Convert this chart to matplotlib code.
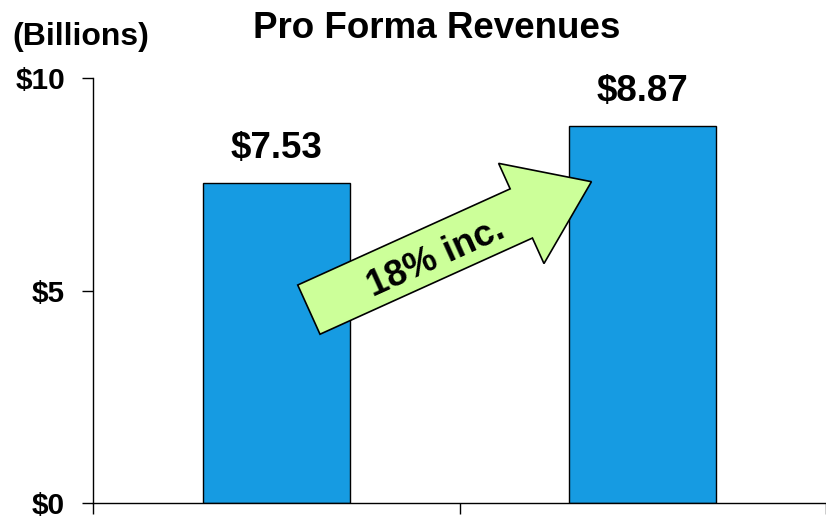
import numpy as np
import matplotlib
matplotlib.use('Agg')
import matplotlib.pyplot as plt
from matplotlib.patches import FancyArrow
from matplotlib.transforms import IdentityTransform

plt.rcParams['font.family'] = ['Liberation Sans', 'DejaVu Sans']
plt.rcParams['font.weight'] = 'bold'

# === Data ====================================================================
periods = ['Before', 'Pro Forma']
revenues = [7.53, 8.87]
value_labels = ['$7.53', '$8.87']
yticks = [0, 5, 10]
ytick_labels = ['$0', '$5', '$10']
growth_label = '18% inc.'

# === Figure ==================================================================
W, H = 826, 519
fig = plt.figure(figsize=(W / 100, H / 100), dpi=100)
ax = fig.add_axes([93 / W, 16 / H, 1 - 93 / W, (503 - 78) / H])

x = np.arange(len(revenues)) + 0.5
ax.bar(x, revenues, width=0.4, color='#169be2', edgecolor='black',
       linewidth=1, zorder=2)

for xi, v, lab in zip(x, revenues, value_labels):
    ax.annotate(lab, (xi, v), xytext=(0, 18), textcoords='offset points',
                ha='center', va='baseline', fontsize=26.5, fontweight='bold')

ax.set_xlim(0, len(revenues))
ax.set_ylim(0, 10)
ax.set_xticks(np.arange(len(revenues) + 1))
ax.set_xticklabels([])
ax.set_yticks(yticks)
ax.set_yticklabels(ytick_labels)
ax.tick_params(axis='both', direction='out', length=8, width=1, pad=12,
               labelsize=21.5)
for s in ['top', 'right']:
    ax.spines[s].set_visible(False)
for s in ['left', 'bottom']:
    ax.spines[s].set_linewidth(1)

# Growth arrow (from just above bar 1 up toward bar 2)
p0 = ax.transData.transform((0.589, 4.55))
p1 = ax.transData.transform((1.360, 7.56))
dx, dy = p1 - p0
arrow = FancyArrow(p0[0], p0[1], dx, dy, width=54, head_width=110,
                   head_length=77, length_includes_head=True,
                   transform=IdentityTransform(), facecolor='#ccff99',
                   edgecolor='black', linewidth=1.2, zorder=5)
arrow.set_clip_on(False)
ax.add_patch(arrow)

angle = np.degrees(np.arctan2(dy, dx))
ax.text(0.937, 5.77, growth_label, rotation=angle, rotation_mode='anchor',
        ha='center', va='center', fontsize=26.5, fontweight='bold', zorder=6)

# Titles
fig.text(437 / W, (H - 38) / H, 'Pro Forma Revenues', ha='center',
         va='baseline', fontsize=26.5, fontweight='bold')
fig.text(12 / W, (H - 45) / H, '(Billions)', ha='left', va='baseline',
         fontsize=23, fontweight='bold')

plt.savefig('out.png', dpi=100)
plt.close()
